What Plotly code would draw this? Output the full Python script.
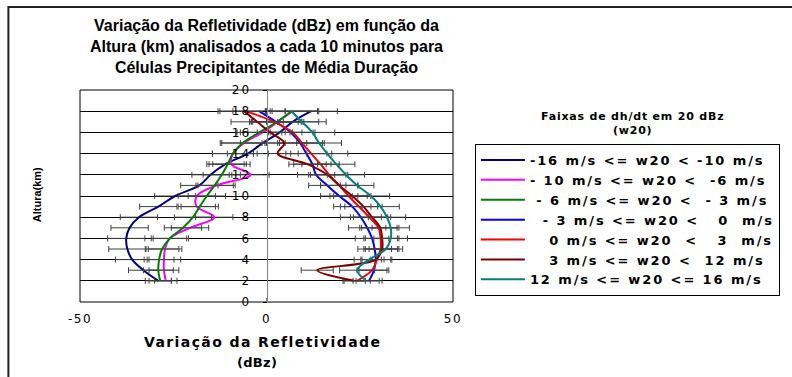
import plotly.graph_objects as go

heights = [2, 3, 4, 5, 6, 7, 8, 9, 10, 11, 12, 13, 14, 15, 16, 17, 18]

NB = "\u00a0"
series_names = [
    "-16 m/s &lt;= w20 &lt; -10 m/s",
    "- 10 m/s &lt;= w20 &lt;" + NB + " -6 m/s",
    NB + "- 6 m/s &lt;= w20 &lt;" + NB + " - 3 m/s",
    NB + NB + "- 3 m/s &lt;= w20 &lt;" + NB + NB + " 0" + NB + " m/s",
    NB + NB + NB + "0 m/s &lt;= w20" + NB + " &lt;" + NB + NB + " 3" + NB + " m/s",
    NB + NB + NB + "3 m/s &lt;= w20 &lt;" + NB + " 12 m/s",
    "12 m/s &lt;= w20 &lt;= 16 m/s",
]

w_m16_m10 = [-29, -33, -36, -37.3, -37.6, -36.7, -34.2, -29, -24.5, -18, -15, -11, -5, -1, 3.5, 7, 12]
w_m10_m6 = [-27, -27.5, -27.5, -27.2, -25.9, -20.5, -14, -18.7, -18.7, -13.4, -4.3, -9.4, -9, -6, -1, 3, 7]
w_m6_m3 = [-28.5, -29, -28.8, -28, -25.9, -22.4, -19.7, -17.9, -16, -13.9, -12, -10.4, -9, -6.4, -1.9, 2.8, 6.7]
w_m3_0 = [27.5, 28.8, 29.3, 29, 28.3, 27, 25.3, 23, 19.5, 16.3, 13.3, 12.3, 10.7, 9, 6.5, 2.5, -2]
w_0_3 = [24.3, 28.3, 29.6, 30.6, 30.6, 30, 27.5, 24.8, 22, 19.5, 16.8, 14.5, 12, 9.5, 7, 2, -5.5]
w_3_12 = [23.5, 13.6, 29.3, 31, 31, 30.5, 28.3, 26, 23, 19.5, 16.3, 11, 3, 4.8, 1, -2.5, -6]
w_12_16 = [26.7, 24.3, 27.5, 32, 33.3, 33.3, 32.3, 30.6, 28, 24.3, 21.3, 18.7, 16.3, 14.1, 12.3, 9.5, 6.7]

err_m16_m10 = [3.5, 4, 4.5, 5, 5, 5, 5, 5, 5.5, 5, 5, 5, 5.5, 6, 6, 7, 7]
err_m10_m6 = [3, 4, 4.5, 4.5, 5, 5, 5, 5, 5, 5, 5, 5, 5.5, 6, 6, 7, 7]
err_m6_m3 = [3, 4, 4, 4.5, 4.5, 5, 5, 5, 5, 5, 5, 5, 5.5, 6, 6, 6.5, 7]
err_m3_0 = [3.5, 4, 4, 4.5, 4.5, 5, 5.5, 5, 5, 5, 5, 5, 5.5, 6, 6, 7, 7]
err_0_3 = [3.5, 4, 4, 4.5, 4.5, 5, 5, 5, 5, 5, 5, 5, 5.5, 6, 6, 6.5, 7]
err_3_12 = [3, 4.3, 1.5, 4.5, 4.5, 5, 5, 5, 5, 5, 5, 5, 5.5, 6, 6, 7, 7]
err_12_16 = [3.5, 4.7, 4, 4.5, 4.5, 5, 5, 5, 5, 4.5, 5, 5, 5.5, 6, 6, 6.5, 7]

x_tickvals = [-50, 0, 50]
x_ticklabels = ["-50", "0", "50"]
y_tickvals = [0, 2, 4, 6, 8, 10, 12, 14, 16, 18, 20]

values = [w_m16_m10, w_m10_m6, w_m6_m3, w_m3_0, w_0_3, w_3_12, w_12_16]
errors = [err_m16_m10, err_m10_m6, err_m6_m3, err_m3_0, err_0_3, err_3_12, err_12_16]
colors = ["#000080", "#FF00FF", "#008000", "#0000FF", "#FF0000", "#800000", "#008080"]

FONT = "Liberation Sans, Arial, sans-serif"
WIDE = "DejaVu Sans, Verdana, sans-serif"


def spaced(text, ls):
    return '<span style="letter-spacing:%spx">%s</span>' % (ls, text)


fig = go.Figure()
for name, vals, errs, col in zip(series_names, values, errors, colors):
    fig.add_trace(go.Scatter(
        x=vals, y=heights, mode="lines", name=spaced(name, 1.9),
        line=dict(color=col, width=2, shape="spline", smoothing=1.0),
        error_x=dict(type="data", array=errs, visible=True, color="#404040",
                     thickness=1, width=3),
    ))

# Plot area: px x 80..455, y 90..302
L, R, T, B = 80, 455, 90, 302
W, H = 792, 377


def fx(px):
    return (px - L) / (R - L)


def fy(py):
    return 1 - (py - T) / (B - T)


fig.update_layout(
    width=W, height=H,
    margin=dict(l=L, r=W - R, t=T, b=H - B, pad=0),
    paper_bgcolor="white", plot_bgcolor="white",
    font=dict(family=FONT, color="black", size=13),
    showlegend=True,
    legend=dict(
        x=fx(477), y=fy(144), xanchor="left", yanchor="top",
        bordercolor="black", borderwidth=1, bgcolor="white",
        font=dict(family=WIDE, size=13, color="black", weight="bold"),
        itemwidth=44, tracegroupgap=0,
    ),
    xaxis=dict(
        range=[-50, 50], tickvals=x_tickvals,
        ticktext=[spaced(t, 1.5) for t in x_ticklabels],
        ticks="inside", ticklen=4, ticklabelstandoff=6,
        tickcolor="#808080", showline=True, linecolor="#808080", linewidth=1,
        showgrid=False, zeroline=False,
        tickfont=dict(family=WIDE, size=12),
        fixedrange=True,
    ),
    yaxis=dict(
        range=[0, 20], tickvals=y_tickvals,
        ticktext=[spaced(str(v), 2) for v in y_tickvals],
        anchor="free", position=0.5,
        ticks="outside", ticklen=4, tickcolor="black", ticklabelstandoff=9,
        showline=True, linecolor="#808080", linewidth=1,
        showgrid=True, gridcolor="black", gridwidth=1,
        zeroline=False, tickfont=dict(family=WIDE, size=12),
        fixedrange=True,
    ),
)

shapes = [
    dict(type="rect", xref="paper", yref="paper", x0=0, x1=1, y0=0, y1=1,
         line=dict(color="black", width=1), layer="below"),
    dict(type="rect", xref="paper", yref="paper",
         x0=fx(8), x1=fx(805), y0=fy(395), y1=fy(7),
         line=dict(color="#222222", width=2), layer="below"),
]
fig.update_layout(shapes=shapes)

annotations = [
    dict(text="Variação da Refletividade (dBz) em função da<br>Altura (km) analisados a cada 10 minutos para<br>Células Precipitantes de Média Duração",
         x=0.5, y=fy(46), xref="paper", yref="paper", showarrow=False,
         xanchor="center", yanchor="middle",
         font=dict(family=FONT, size=16, color="black", weight="bold")),
    dict(text=spaced("Variação da Refletividade", 1.4), x=fx(263), y=fy(342),
         xref="paper", yref="paper",
         showarrow=False, xanchor="center", yanchor="middle",
         font=dict(family=WIDE, size=14, color="black", weight="bold")),
    dict(text=spaced("(dBz)", 0.3), x=fx(258), y=fy(362), xref="paper", yref="paper",
         showarrow=False, xanchor="center", yanchor="middle",
         font=dict(family=WIDE, size=13, color="black", weight="bold")),
    dict(text="Altura(km)", x=fx(37), y=fy(195), xref="paper", yref="paper",
         showarrow=False, xanchor="center", yanchor="middle", textangle=-90,
         font=dict(family=FONT, size=11, color="black", weight="bold")),
    dict(text=spaced("Faixas de dh/dt em 20 dBz", 0.8) + "<br>" + spaced("(w20)", 0.8),
         x=fx(635), y=fy(123),
         xref="paper", yref="paper", showarrow=False,
         xanchor="center", yanchor="middle",
         font=dict(family=WIDE, size=11, color="black", weight="bold")),
]
fig.update_layout(annotations=annotations)

fig.write_html("out.html", config={"displayModeBar": False},
               post_script="document.body.style.margin='0';")
